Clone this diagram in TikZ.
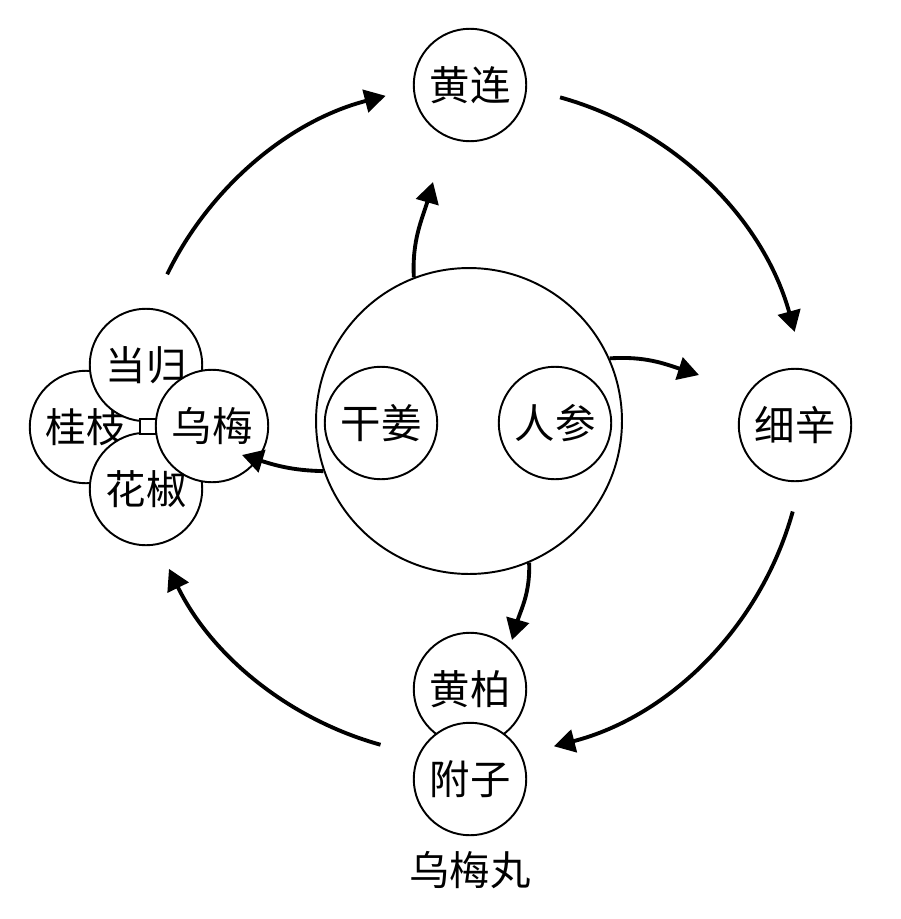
\documentclass[tikz,border=0pt]{standalone}
\usepackage{fontspec}
\newfontfamily\cjk{Noto Sans CJK SC}
\usetikzlibrary{arrows.meta,calc}
\begin{document}
\begin{tikzpicture}[x=0.02cm,y=-0.02cm,
  herb/.style={circle,draw,line width=1.1pt,fill=white,minimum size=2.25cm,inner sep=0pt,font=\cjk\fontsize{23}{27}\selectfont},
  bigc/.style={circle,draw,line width=1.1pt,fill=white,minimum size=6.12cm,inner sep=0pt},
  gapbox/.style={draw,line width=0.9pt,fill=white,minimum width=0.34cm,minimum height=0.3cm,inner sep=0pt},
  arr/.style={line width=2.2pt,-{Triangle[length=0.42cm,width=0.46cm]}},
  lbl/.style={font=\cjk\fontsize{23}{27}\selectfont,inner sep=0pt}]
\useasboundingbox (0,0) rectangle (900,919);
\fill[white] (0,0) rectangle (900,919);

% central group
\node[bigc] (mid) at (469,421) {};
\node[herb] (ganjiang) at (381,423) {干姜};
\node[herb] (renshen) at (555,423) {人参};

% top and right
\node[herb] (huanglian) at (470,85) {黄连};
\node[herb] (xixin) at (795,425) {细辛};

% bottom
\node[herb] (huangbai) at (470,689) {黄柏};
\node[herb] (fuzi) at (470,779) {附子};
\node[lbl] (wumeiwan) at (470,870) {乌梅丸};

% left cluster
\node[herb] (guizhi) at (86,427) {桂枝};
\node[herb] (danggui) at (146,365) {当归};
\node[herb] (huajiao) at (146,489) {花椒};
\node[gapbox] (gap) at (148.5,426.5) {};
\node[herb] (wumei) at (212,426) {乌梅};

% outer cycle
\coordinate (c) at (470,422);
\coordinate (o1) at ($(c)+(154:6.74cm)$);
\coordinate (o2) at ($(c)+(74.5:6.74cm)$);
\coordinate (o3) at ($(c)+(-15.5:6.70cm)$);
\coordinate (o4) at ($(c)+(-105.5:6.70cm)$);
\draw[arr] (o1) arc[start angle=154,end angle=104.5,radius=6.74cm];
\draw[arr] (o2) arc[start angle=74.5,end angle=15.5,radius=6.74cm];
\draw[arr] (o3) arc[start angle=-15.5,end angle=-75.5,radius=6.70cm];
\draw[arr] (o4) arc[start angle=-105.5,end angle=-154,radius=6.70cm];

% inner arrows from the central circle
\coordinate (t1) at (433,182);
\coordinate (t2) at (699,375);
\coordinate (t3) at (512,640);
\coordinate (t4) at (242,455);
\draw[arr] (mid.111.5) to[out=93,in=254] (t1);
\draw[arr] (mid.24) to[out=4,in=162] (t2);
\draw[arr] (mid.-67) to[out=-88,in=74] (t3);
\draw[arr] (mid.199.5) to[out=179,in=-17] (t4);
\end{tikzpicture}
\end{document}
